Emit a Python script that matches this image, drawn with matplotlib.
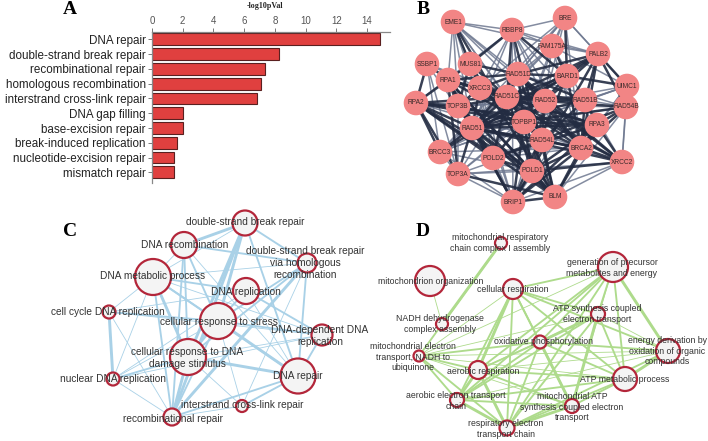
import matplotlib
matplotlib.use("Agg")
import matplotlib.pyplot as plt
from matplotlib.patches import Circle

# ---------------- Panel A data ----------------
A_terms = ["DNA repair", "double-strand break repair", "recombinational repair",
           "homologous recombination", "interstrand cross-link repair", "DNA gap filling",
           "base-excision repair", "break-induced replication", "nucleotide-excision repair",
           "mismatch repair"]
A_values = [14.85, 8.29, 7.36, 7.08, 6.86, 2.04, 2.00, 1.65, 1.45, 1.45]
A_ticks = [0, 2, 4, 6, 8, 10, 12, 14]

# ---------------- Panel B data (PPI network, layout in pixel coords) ----------------
B_nodes = ["EME1", "BRE", "RBBP8", "FAM175A", "PALB2", "SSBP1", "MUS81", "RAD51D", "BARD1",
           "UIMC1", "RPA1", "XRCC3", "RPA2", "TOP3B", "RAD51C", "RAD52", "RAD51B", "RAD54B",
           "TOPBP1", "RAD51", "RPA3", "RAD54L", "BRCA2", "BRCC3", "POLD2", "XRCC2", "POLD1",
           "TOP3A", "BRIP1", "BLM"]
B_x = [453, 565, 512, 552, 598, 427, 470, 518, 567, 627, 448, 480, 416, 458, 507, 545, 585,
       626, 524, 472, 597, 542, 581, 440, 493, 622, 532, 458, 513, 555]
B_y = [22, 18, 30, 46, 54, 64, 64, 74, 76, 86, 80, 88, 103, 106, 97, 101, 100, 107, 122, 128,
       125, 140, 148, 152, 158, 162, 171, 174, 202, 197]
B_strong = {
    "RAD51C": "RAD51D XRCC3 RAD52 RAD51B TOPBP1 RAD51 RAD54L BRCA2 POLD2 TOP3B MUS81 RPA1 RPA2 RPA3 BARD1 XRCC2 POLD1 RBBP8 PALB2",
    "RAD51D": "XRCC3 RAD52 RAD51B RAD51 BRCA2 XRCC2 PALB2 BARD1 RBBP8 MUS81 RPA1 TOPBP1 RAD54L",
    "RAD51": "XRCC3 RAD52 RAD51B BRCA2 RAD54L RPA1 RPA2 RPA3 TOP3B BRCC3 TOP3A POLD2 POLD1 TOPBP1 XRCC2 BRIP1 BLM PALB2 BARD1 RAD54B",
    "RPA1": "RPA2 RPA3 TOP3B XRCC3 TOPBP1 POLD2 POLD1 BLM TOP3A SSBP1 MUS81 BRIP1",
    "RPA2": "RPA3 TOP3B TOPBP1 POLD1 POLD2 BLM TOP3A BRCC3 SSBP1",
    "RPA3": "TOPBP1 POLD1 POLD2 BLM BRCA2 RAD51B RAD54B XRCC2 BRIP1",
    "BRCA2": "PALB2 RAD52 RAD51B RAD54L BARD1 XRCC2 RAD54B BRIP1 BLM TOPBP1 POLD1",
    "TOPBP1": "RAD52 BRIP1 BLM POLD1 POLD2 BARD1 RAD54L TOP3B",
    "XRCC3": "RAD52 RAD51B XRCC2 TOP3B MUS81 RAD54L",
    "BLM": "TOP3A TOP3B BRIP1 POLD1 RAD54L MUS81 RBBP8 EME1 XRCC2",
    "PALB2": "BARD1 RAD51B RAD52 BRIP1 UIMC1 RAD54B",
    "RAD52": "RAD51B RAD54L RAD54B XRCC2 POLD1",
    "BARD1": "BRIP1 BRCC3 UIMC1 RBBP8 FAM175A BRE",
    "MUS81": "EME1 RBBP8 TOP3B",
    "POLD1": "POLD2 RAD54L XRCC2 BRIP1",
    "RAD54L": "RAD51B RAD54B POLD2",
}
B_weak = {
    "EME1": "RBBP8 RAD51D XRCC3 RAD51C RAD52 RPA1 TOP3B RAD51 BRIP1 TOPBP1 BRCA2 PALB2",
    "BRE": "RBBP8 FAM175A PALB2 BRCC3 UIMC1 RAD51D RAD52 BRCA2 TOPBP1 XRCC3 RAD51",
    "FAM175A": "UIMC1 BRCC3 PALB2 RBBP8 RAD51D RAD52 BRCA2 TOPBP1 RAD51B RAD51",
    "UIMC1": "BRCC3 RAD51B RAD54B BRCA2 RPA3 RAD52 XRCC2 TOPBP1",
    "SSBP1": "RPA3 RAD51 XRCC3 BRCC3 TOP3A",
    "RBBP8": "RAD51D RAD52 XRCC3 TOPBP1 RAD51 BRCA2 BRIP1 PALB2 RPA1 RPA2 RPA3",
    "RAD54B": "XRCC2 RAD51B RPA2 RAD51D TOPBP1 BLM",
    "XRCC2": "BLM BRIP1 RAD51B RPA2 TOP3A",
    "BRCC3": "BRCA2 TOPBP1 RAD51C TOP3A BRIP1 UIMC1 RAD52 POLD1",
    "TOP3A": "TOP3B BRIP1 RPA3 POLD1 RAD52 TOPBP1 RAD51C",
    "TOP3B": "POLD2 RAD52 RAD51B BRCA2",
    "BRIP1": "POLD2 TOP3B RAD51B XRCC3 RAD52",
    "POLD2": "RAD52 XRCC3 BRCA2 RAD51D",
}

# ---------------- Panel C data (GO network, DNA) ----------------
C_keys = ["DSB", "REC", "HR", "MET", "REP", "CC", "STR", "DDR", "DAM", "NUC", "REPAIR", "ICL", "RR"]
C_labels = ["double-strand break repair", "DNA recombination",
            "double-strand break repair\nvia homologous\nrecombination",
            "DNA metabolic process", "DNA replication", "cell cycle DNA replication",
            "cellular response to stress", "DNA-dependent DNA\nreplication",
            "cellular response to DNA\ndamage stimulus", "nuclear DNA replication",
            "DNA repair", "interstrand cross-link repair", "recombinational repair"]
C_x = [245, 184, 307, 153, 246, 109, 218, 322, 188, 113, 298, 242, 172]
C_y = [223, 245, 263, 277, 291, 312, 321, 335, 357, 379, 376, 406, 417]
C_r = [12.5, 13, 9.5, 18, 13, 6.5, 18, 10.5, 18, 6.5, 17.5, 6, 8.5]
C_lx = [245, 185, 305, 153, 246, 108, 219, 320, 187, 113, 298, 242, 173]
C_ly = [222, 245, 263, 276, 292, 312, 322, 336, 358, 379, 376, 405, 419]
C_edges = [("REC", "DSB", 3), ("REC", "HR", 2), ("REC", "MET", 1), ("REC", "STR", 2),
           ("REC", "DAM", 2), ("REC", "RR", 2), ("REC", "REPAIR", 1), ("DSB", "HR", 2),
           ("DSB", "STR", 3), ("DSB", "DAM", 3), ("DSB", "RR", 3), ("DSB", "REPAIR", 2),
           ("DSB", "MET", 1), ("MET", "HR", 1), ("MET", "STR", 2), ("MET", "DAM", 3),
           ("MET", "REP", 2), ("MET", "RR", 2), ("MET", "REPAIR", 2), ("MET", "CC", 1),
           ("MET", "NUC", 1), ("MET", "DDR", 1), ("REP", "CC", 1), ("REP", "STR", 2),
           ("REP", "DDR", 2), ("REP", "NUC", 1), ("REP", "REPAIR", 1), ("CC", "NUC", 3),
           ("CC", "STR", 2), ("CC", "DDR", 1), ("CC", "RR", 1), ("NUC", "DAM", 2),
           ("NUC", "STR", 1), ("NUC", "RR", 1), ("STR", "DAM", 3), ("STR", "REPAIR", 3),
           ("STR", "HR", 2), ("STR", "RR", 2), ("STR", "ICL", 1), ("STR", "DDR", 2),
           ("DAM", "REPAIR", 3), ("DAM", "ICL", 1), ("DAM", "RR", 3), ("DAM", "HR", 2),
           ("DAM", "DDR", 1), ("REPAIR", "ICL", 2), ("REPAIR", "RR", 2), ("REPAIR", "HR", 2),
           ("REPAIR", "DDR", 2), ("HR", "RR", 3), ("HR", "ICL", 1), ("RR", "ICL", 1),
           ("DDR", "NUC", 1)]

# ---------------- Panel D data (GO network, mitochondria) ----------------
D_keys = ["MRCA", "MO", "GEN", "CR", "ATPS", "NADHA", "OX", "ENERGY", "METNADH", "AER",
          "ATPM", "AETC", "MATP", "RETC"]
D_labels = ["mitochondrial respiratory\nchain complex I assembly", "mitochondrion organization",
            "generation of precursor\nmetabolites and energy", "cellular respiration",
            "ATP synthesis coupled\nelectron transport", "NADH dehydrogenase\ncomplex assembly",
            "oxidative phosphorylation", "energy derivation by\noxidation of organic\ncompounds",
            "mitochondrial electron\ntransport, NADH to\nubiquinone", "aerobic respiration",
            "ATP metabolic process", "aerobic electron transport\nchain",
            "mitochondrial ATP\nsynthesis coupled electron\ntransport",
            "respiratory electron\ntransport chain"]
D_x = [501, 430, 613, 513, 598, 442, 540, 668, 419, 478, 625, 457, 572, 507]
D_y = [243, 281, 267, 289, 314, 324, 342, 351, 356, 370, 379, 400, 406, 428]
D_r = [6, 15, 15, 10, 7, 6, 6.5, 12, 5.5, 9, 12, 7, 7, 7.5]
D_lx = [500, 431, 612, 513, 597, 440, 543, 667, 413, 483, 625, 456, 572, 506]
D_ly = [243, 282, 268, 290, 314, 324, 342, 351, 357, 371, 380, 401, 407, 429]
D_edges = [("MRCA", "NADHA", 3), ("MRCA", "METNADH", 2), ("MO", "NADHA", 1),
           ("GEN", "CR", 2), ("GEN", "ATPS", 2), ("GEN", "OX", 2), ("GEN", "ENERGY", 3),
           ("GEN", "ATPM", 2), ("GEN", "AER", 2), ("GEN", "AETC", 2), ("GEN", "MATP", 1),
           ("GEN", "RETC", 2), ("GEN", "METNADH", 1),
           ("CR", "ATPS", 2), ("CR", "OX", 2), ("CR", "AER", 3), ("CR", "AETC", 2),
           ("CR", "MATP", 2), ("CR", "RETC", 2), ("CR", "ENERGY", 2), ("CR", "ATPM", 2),
           ("CR", "METNADH", 1),
           ("ATPS", "OX", 3), ("ATPS", "ENERGY", 1), ("ATPS", "ATPM", 2), ("ATPS", "AER", 1),
           ("ATPS", "AETC", 2), ("ATPS", "MATP", 3), ("ATPS", "RETC", 2), ("ATPS", "METNADH", 1),
           ("OX", "ENERGY", 2), ("OX", "AER", 2), ("OX", "ATPM", 2), ("OX", "MATP", 3),
           ("OX", "RETC", 2), ("OX", "AETC", 2), ("OX", "METNADH", 2),
           ("ENERGY", "ATPM", 3), ("ENERGY", "AER", 1), ("ENERGY", "METNADH", 1),
           ("ENERGY", "RETC", 2), ("ENERGY", "AETC", 1),
           ("METNADH", "AER", 2), ("METNADH", "AETC", 2), ("METNADH", "RETC", 2),
           ("METNADH", "ATPM", 1), ("METNADH", "MATP", 1),
           ("AER", "AETC", 3), ("AER", "RETC", 3), ("AER", "ATPM", 2), ("AER", "MATP", 2),
           ("ATPM", "MATP", 2), ("ATPM", "RETC", 2), ("ATPM", "AETC", 2),
           ("AETC", "RETC", 3), ("AETC", "MATP", 2), ("MATP", "RETC", 3)]

# ---------------- Drawing ----------------
W, H = 708, 441
fig = plt.figure(figsize=(W / 100, H / 100), dpi=100)
SANS = ["Liberation Sans", "DejaVu Sans"]
SERIF = ["Liberation Serif", "DejaVu Serif"]


def px_axes(x0, y0, x1, y1):
    ax = fig.add_axes([x0 / W, 1 - y1 / H, (x1 - x0) / W, (y1 - y0) / H])
    ax.set_xlim(x0, x1)
    ax.set_ylim(y1, y0)
    ax.axis("off")
    return ax


# Panel A
axA = fig.add_axes([152 / W, 1 - 183 / H, (390 - 152) / W, (183 - 32) / H])
ypos = list(range(len(A_terms)))
axA.barh(ypos, A_values, height=0.8, color="#E0403F", edgecolor="#5a2020", linewidth=0.8)
axA.set_xlim(0, 15.5)
axA.set_ylim(9.72, -0.5)
axA.xaxis.tick_top()
axA.set_xticks(A_ticks)
axA.set_xticklabels([str(t) for t in A_ticks], fontsize=7, color="#555555", family=SANS)
axA.set_yticks(ypos)
axA.set_yticklabels(A_terms, fontsize=8.4, color="#222222", family=SANS)
axA.tick_params(axis="both", length=3, width=0.7, colors="#777777", pad=1.5)
for lab in axA.get_xticklabels():
    lab.set_color("#555555")
for lab in axA.get_yticklabels():
    lab.set_color("#222222")
for s in ["right", "bottom"]:
    axA.spines[s].set_visible(False)
for s in ["top", "left"]:
    axA.spines[s].set_color("#888888")
    axA.spines[s].set_linewidth(0.9)
fig.text(265 / W, 1 - 6 / H, "-log10pVal", family=SERIF, fontsize=5.8, fontweight="bold",
         ha="center", va="center", color="#222222")

# Panel B
axB = px_axes(360, 0, 708, 220)
pos = {n: (x, y) for n, x, y in zip(B_nodes, B_x, B_y)}
seen = set()
for adj, col, lw, al in [(B_weak, "#6E7890", 1.1, 0.85), (B_strong, "#232C42", 1.8, 0.9)]:
    for a, nbrs in adj.items():
        for b in nbrs.split():
            key = tuple(sorted((a, b)))
            if key in seen or a == b:
                continue
            seen.add(key)
            (x0, y0), (x1, y1) = pos[a], pos[b]
            axB.plot([x0, x1], [y0, y1], color=col, lw=lw, alpha=al, zorder=1,
                     solid_capstyle="round")
for n in B_nodes:
    x, y = pos[n]
    axB.add_patch(Circle((x, y), 12.3, facecolor="#F28585", edgecolor="none", zorder=3,
                         clip_on=False))
    axB.text(x, y, n, fontsize=4.8, ha="center", va="center", color="#3a2a2a",
             family=SANS, zorder=4)
fig.text(423 / W, 1 - 9 / H, "B", family=SERIF, fontsize=14, fontweight="bold",
         ha="center", va="center")
fig.text(70 / W, 1 - 10 / H, "A", family=SERIF, fontsize=14, fontweight="bold",
         ha="center", va="center")


def draw_go(ax, keys, labels, xs, ys, rs, lxs, lys, edges, ecol, fs, clip):
    p = {k: (x, y) for k, x, y in zip(keys, xs, ys)}
    for a, b, w in edges:
        (x0, y0), (x1, y1) = p[a], p[b]
        ax.plot([x0, x1], [y0, y1], color=ecol, lw=0.6 + 0.75 * (w - 1), zorder=1,
                solid_capstyle="round")
    for k, lab, x, y, r, lx, ly in zip(keys, labels, xs, ys, rs, lxs, lys):
        ax.add_patch(Circle((x, y), r, facecolor="#F4F4F4", edgecolor="#B3263A", lw=1.6,
                            zorder=2, clip_on=False))
        ax.text(lx, ly, lab, fontsize=fs, ha="center", va="center", color="#333333",
                family=SANS, zorder=3, linespacing=1.2, clip_on=clip)


# Panel C
axC = px_axes(0, 195, 360, 441)
draw_go(axC, C_keys, C_labels, C_x, C_y, C_r, C_lx, C_ly, C_edges, "#A9D1E7", 7.3, False)
fig.text(70 / W, 1 - 232 / H, "C", family=SERIF, fontsize=14, fontweight="bold",
         ha="center", va="center")

# Panel D
axD = px_axes(360, 220, 708, 441)
draw_go(axD, D_keys, D_labels, D_x, D_y, D_r, D_lx, D_ly, D_edges, "#AEDB8C", 6.3, True)
fig.text(423 / W, 1 - 232 / H, "D", family=SERIF, fontsize=14, fontweight="bold",
         ha="center", va="center")

fig.savefig("out.png", dpi=100)
